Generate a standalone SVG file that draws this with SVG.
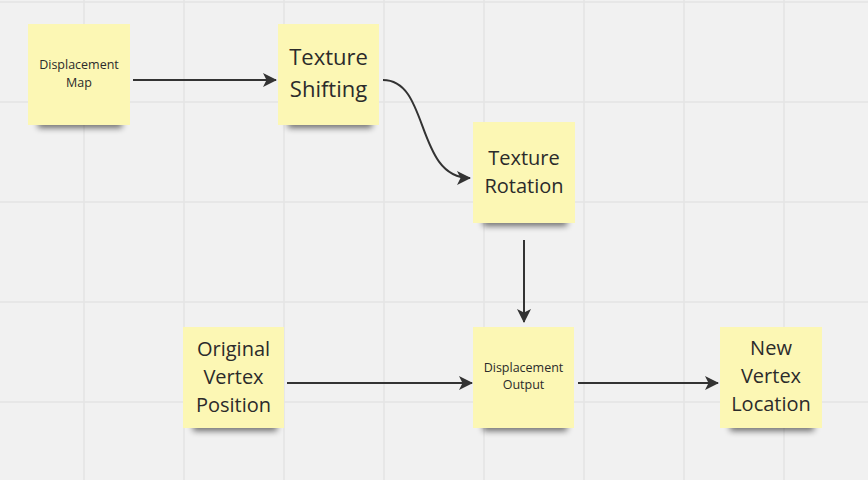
<svg xmlns="http://www.w3.org/2000/svg" width="868" height="480" viewBox="0 0 868 480">
<defs>
<style>
.grid{stroke:#e4e4e4;stroke-width:1.5}
.note{fill:#fcf7b4}
.shadow{fill:#000;opacity:0.55;filter:url(#blur)}
.big{font-family:"Open Sans","Noto Sans",sans-serif;font-size:20px;fill:#2b2b2b;text-anchor:middle}
.big22{font-family:"Open Sans","Noto Sans",sans-serif;font-size:22px;fill:#2b2b2b;text-anchor:middle}
.small{font-family:"Open Sans","Noto Sans",sans-serif;font-size:12.5px;fill:#2b2b2b;text-anchor:middle}
.conn{fill:none;stroke:#333;stroke-width:2}
</style>
<filter id="blur" x="-20%" y="-100%" width="140%" height="300%"><feGaussianBlur stdDeviation="3"/></filter>
<marker id="arr" viewBox="0 0 14 14" refX="13" refY="7" markerWidth="14" markerHeight="14" markerUnits="userSpaceOnUse" orient="auto">
<path d="M0,0 L14,7 L0,14 L3.5,7 Z" fill="#333"/>
</marker>
</defs>
<rect width="868" height="480" fill="#f1f1f1"/>
<g id="grid">
<path class="grid" d="M84,0V480M184,0V480M284,0V480M384,0V480M484,0V480M584,0V480M684,0V480M784,0V480M0,2H868M0,102H868M0,202H868M0,302H868M0,402H868"/>
</g>
<g id="n-map">
<rect class="shadow" x="38" y="119" width="84" height="9"/>
<rect class="note" x="28" y="24" width="102" height="101"/>
<text class="small" x="79" y="69">Displacement</text>
<text class="small" x="79" y="87">Map</text>
</g>
<g id="n-shift">
<rect class="shadow" x="288" y="119" width="84" height="9"/>
<rect class="note" x="278" y="24" width="101" height="101"/>
<text class="big22" x="328.5" y="65">Texture</text>
<text class="big22" x="328.5" y="97">Shifting</text>
</g>
<g id="n-rot">
<rect class="shadow" x="483" y="217" width="84" height="9"/>
<rect class="note" x="473" y="122" width="102" height="101"/>
<text class="big" x="524" y="165">Texture</text>
<text class="big" x="524" y="193">Rotation</text>
</g>
<g id="n-orig">
<rect class="shadow" x="193" y="422" width="84" height="9"/>
<rect class="note" x="183" y="327" width="101" height="101"/>
<text class="big" x="233.5" y="356">Original</text>
<text class="big" x="233.5" y="384">Vertex</text>
<text class="big" x="233.5" y="412">Position</text>
</g>
<g id="n-out">
<rect class="shadow" x="483" y="422" width="84" height="9"/>
<rect class="note" x="473" y="327" width="101" height="101"/>
<text class="small" x="523.5" y="372">Displacement</text>
<text class="small" x="523.5" y="389">Output</text>
</g>
<g id="n-new">
<rect class="shadow" x="730" y="422" width="84" height="9"/>
<rect class="note" x="720" y="327" width="102" height="101"/>
<text class="big" x="771" y="355">New</text>
<text class="big" x="771" y="383">Vertex</text>
<text class="big" x="771" y="411">Location</text>
</g>
<g id="connectors">
<path class="conn" marker-end="url(#arr)" d="M133,80H276"/>
<path class="conn" marker-end="url(#arr)" d="M383,80C430,80 415,178 470,178"/>
<path class="conn" marker-end="url(#arr)" d="M524,240V322"/>
<path class="conn" marker-end="url(#arr)" d="M287,383H472"/>
<path class="conn" marker-end="url(#arr)" d="M578,383H718"/>
</g>
</svg>
